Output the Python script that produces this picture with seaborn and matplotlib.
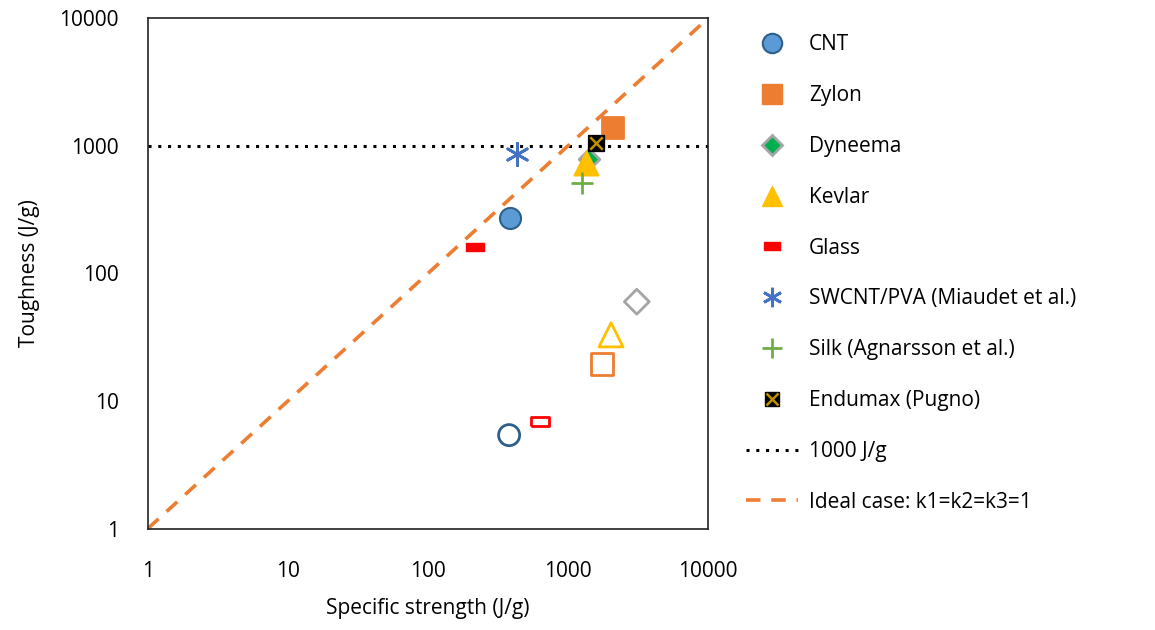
import matplotlib
matplotlib.use("Agg")
import matplotlib.pyplot as plt
from matplotlib.lines import Line2D
from matplotlib.ticker import FixedLocator, FuncFormatter, NullLocator
import seaborn as sns

# filled = fibre values, open = second set (same material, no legend entry)
cnt_x, cnt_y = [385], [270]
cnt_open_x, cnt_open_y = [380], [5.4]
zylon_x, zylon_y = [2100], [1380]
zylon_open_x, zylon_open_y = [1750], [19.5]
dyneema_x, dyneema_y = [1420], [790]
dyneema_open_x, dyneema_open_y = [3100], [60]
kevlar_x, kevlar_y = [1350], [740]
kevlar_open_x, kevlar_open_y = [2030], [33]
glass_x, glass_y = [217], [162]
glass_open_x, glass_open_y = [630], [6.9]
swcnt_x, swcnt_y = [432], [870]
silk_x, silk_y = [1260], [510]
endumax_x, endumax_y = [1580], [1060]

ideal_x = [1, 10000]
limit_y = 1000
ticks = [1, 10, 100, 1000, 10000]

sns.set_style("white")
plt.rcParams["font.family"] = ["Open Sans", "DejaVu Sans"]
plt.rcParams["text.color"] = "black"
plt.rcParams["axes.labelcolor"] = "black"
plt.rcParams["xtick.color"] = "black"
plt.rcParams["ytick.color"] = "black"

fig = plt.figure(figsize=(11.55, 6.3), dpi=100)
ax = fig.add_axes([0.128, 0.161, 0.485, 0.810])

rect = [(-1, -0.5), (1, -0.5), (1, 0.5), (-1, 0.5), (-1, -0.5)]

ax.axhline(limit_y, color="black", ls=(0, (1, 2.2)), lw=2.2, zorder=1)
sns.lineplot(x=ideal_x, y=ideal_x, ax=ax, color="#ED7D31", lw=2.6,
             dashes=False, zorder=1)
ax.lines[-1].set_linestyle((0, (4, 3)))

def pts(x, y, **kw):
    sns.scatterplot(x=x, y=y, ax=ax, legend=False, zorder=3, **kw)

pts(cnt_x, cnt_y, marker="o", s=230, color="#5B9BD5", edgecolor="#2E5F8A", linewidth=1.5)
pts(cnt_open_x, cnt_open_y, marker="o", s=230, facecolor="none", edgecolor="#2E5F8A", linewidth=2)
pts(zylon_x, zylon_y, marker="s", s=260, color="#ED7D31", edgecolor="#ED7D31")
pts(zylon_open_x, zylon_open_y, marker="s", s=260, facecolor="none", edgecolor="#ED7D31", linewidth=2)
pts(dyneema_x, dyneema_y, marker="D", s=110, color="#00B050", edgecolor="#A5A5A5", linewidth=2)
pts(dyneema_open_x, dyneema_open_y, marker="D", s=160, facecolor="none", edgecolor="#A5A5A5", linewidth=2)
pts(kevlar_x, kevlar_y, marker="^", s=300, color="#FFC000", edgecolor="#FFC000")
pts(kevlar_open_x, kevlar_open_y, marker="^", s=300, facecolor="none", edgecolor="#FFC000", linewidth=2)
pts(glass_x, glass_y, marker=rect, s=160, color="#FF0000", edgecolor="#FF0000")
pts(glass_open_x, glass_open_y, marker=rect, s=160, facecolor="none", edgecolor="#FF0000", linewidth=2)
pts(swcnt_x, swcnt_y, marker=(6, 2, 0), s=260, color="#4472C4", linewidth=2)
pts(silk_x, silk_y, marker="+", s=260, color="#70AD47", linewidth=2)
pts(endumax_x, endumax_y, marker="s", s=130, color="black", edgecolor="black")
pts(endumax_x, endumax_y, marker="x", s=80, color="#BF9000", linewidth=1.8)

ax.set_xscale("log")
ax.set_yscale("log")
ax.set_xlim(1, 10000)
ax.set_ylim(1, 10000)
for axis in (ax.xaxis, ax.yaxis):
    axis.set_major_locator(FixedLocator(ticks))
    axis.set_minor_locator(NullLocator())
    axis.set_major_formatter(FuncFormatter(lambda v, p: f"{v:g}"))
ax.tick_params(axis="both", length=0, labelsize=15)
ax.tick_params(axis="x", pad=23)
ax.tick_params(axis="y", pad=21)
for s in ax.spines.values():
    s.set_color("#222222")
    s.set_linewidth(1.2)
ax.set_xlabel("Specific strength (J/g)", fontsize=15, labelpad=12)
ax.set_ylabel("Toughness (J/g)", fontsize=15, labelpad=14)

handles = [
    Line2D([], [], ls="none", marker="o", ms=14, mfc="#5B9BD5", mec="#2E5F8A", mew=1.5),
    Line2D([], [], ls="none", marker="s", ms=14, mfc="#ED7D31", mec="#ED7D31"),
    Line2D([], [], ls="none", marker="D", ms=10, mfc="#00B050", mec="#A5A5A5", mew=2),
    Line2D([], [], ls="none", marker="^", ms=15, mfc="#FFC000", mec="#FFC000"),
    Line2D([], [], ls="none", marker=rect, ms=11, mfc="#FF0000", mec="#FF0000"),
    Line2D([], [], ls="none", marker=(6, 2, 0), ms=14, color="#4472C4", mew=2),
    Line2D([], [], ls="none", marker="+", ms=15, color="#70AD47", mew=2),
    (Line2D([], [], ls="none", marker="s", ms=10, mfc="black", mec="black"),
     Line2D([], [], ls="none", marker="x", ms=8, color="#BF9000", mew=1.8)),
    Line2D([], [], color="black", ls=(0, (1, 2.2)), lw=2.2),
    Line2D([], [], color="#ED7D31", ls=(0, (4, 3)), lw=2.6),
]
labels = ["CNT", "Zylon", "Dyneema", "Kevlar", "Glass",
          "SWCNT/PVA (Miaudet et al.)", "Silk (Agnarsson et al.)",
          "Endumax (Pugno)", "1000 J/g", "Ideal case: k1=k2=k3=1"]
fig.legend(handles, labels, loc="upper left", bbox_to_anchor=(0.63, 0.975),
           frameon=False, fontsize=15, labelspacing=1.43, handlelength=2.5,
           handletextpad=0.5)

fig.savefig("out.png", dpi=100)
